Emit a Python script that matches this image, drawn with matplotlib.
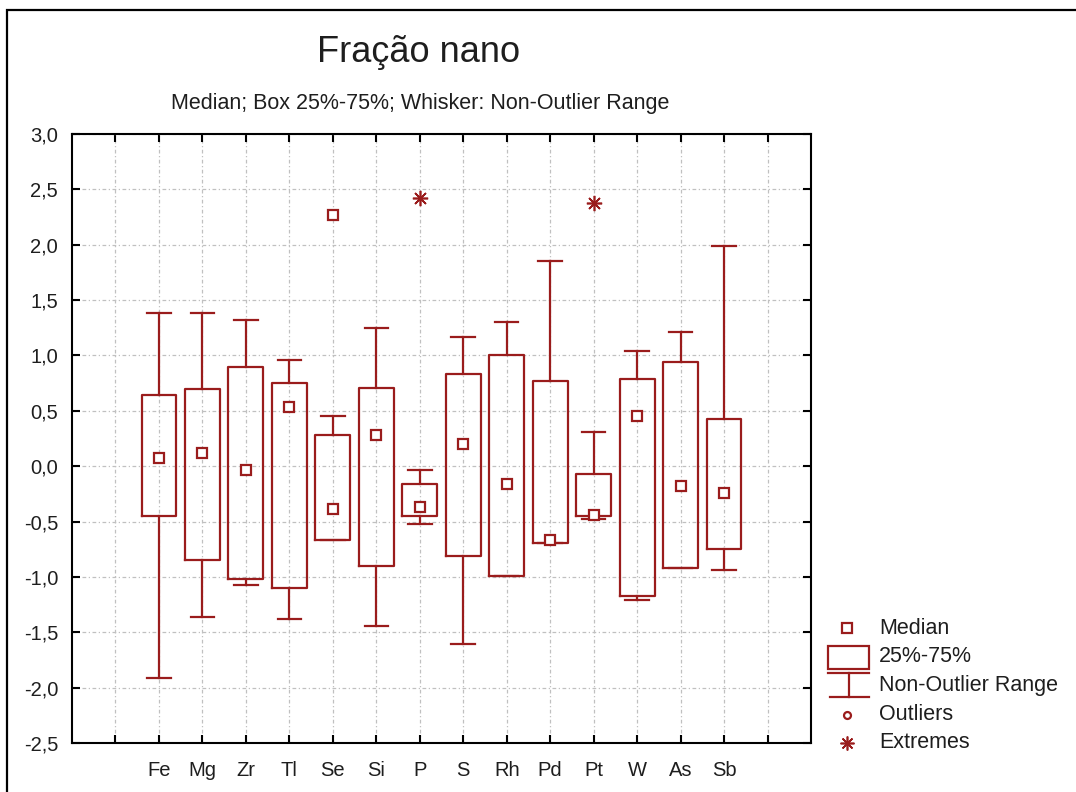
import matplotlib
matplotlib.use("Agg")
import matplotlib.pyplot as plt
from matplotlib.patches import Rectangle

plt.rcParams['font.family'] = ['Liberation Sans', 'DejaVu Sans']

# Element box-plot statistics (log-scale values)
elements = ["Fe", "Mg", "Zr", "Tl", "Se", "Si", "P", "S", "Rh", "Pd", "Pt", "W", "As", "Sb"]
medians  = [0.07, 0.12, -0.03, 0.53, -0.39, 0.28, -0.37, 0.20, -0.16, -0.67, -0.44, 0.45, -0.18, -0.24]
q1       = [-0.45, -0.85, -1.02, -1.10, -0.67, -0.90, -0.45, -0.81, -0.99, -0.69, -0.45, -1.17, -0.92, -0.75]
q3       = [0.64, 0.70, 0.90, 0.75, 0.28, 0.71, -0.16, 0.83, 1.00, 0.77, -0.07, 0.79, 0.94, 0.43]
whis_lo  = [-1.91, -1.36, -1.07, -1.38, -0.67, -1.44, -0.52, -1.61, -0.99, -0.69, -0.48, -1.21, -0.92, -0.94]
whis_hi  = [1.38, 1.38, 1.32, 0.96, 0.45, 1.25, -0.03, 1.17, 1.30, 1.85, 0.31, 1.04, 1.21, 1.99]
outliers = {"Se": [2.27]}
extremes = {"P": [2.42], "Pt": [2.38]}

y_ticks = [3.0, 2.5, 2.0, 1.5, 1.0, 0.5, 0.0, -0.5, -1.0, -1.5, -2.0, -2.5]

RED = "#9a1c1c"
TXT = "#1e1e1e"
GRID = "#c0c0c0"

W, H = 1076, 792
fig = plt.figure(figsize=(W / 100, H / 100), dpi=100)
fig.patch.set_facecolor("white")

# main plot area in pixel units
L, R, T, B = 72, 811, 134, 743
ax = fig.add_axes([L / W, 1 - B / H, (R - L) / W, (B - T) / H])

positions = list(range(2, 2 + len(elements)))
stats = []
for i, name in enumerate(elements):
    stats.append(dict(med=medians[i], q1=q1[i], q3=q3[i],
                      whislo=whis_lo[i], whishi=whis_hi[i], fliers=[]))

lw = 1.6
ax.bxp(stats, positions=positions, widths=0.8, capwidths=0.54,
       showfliers=False, patch_artist=False,
       boxprops=dict(color=RED, linewidth=lw),
       whiskerprops=dict(color=RED, linewidth=lw),
       capprops=dict(color=RED, linewidth=lw),
       medianprops=dict(linestyle="none"), zorder=3)

ax.plot(positions, medians, linestyle="none", marker="s", markersize=7,
        markerfacecolor="white", markeredgecolor=RED, markeredgewidth=1.6, zorder=4)

for name, vals in outliers.items():
    x = positions[elements.index(name)]
    ax.plot([x] * len(vals), vals, linestyle="none", marker="s", markersize=7,
            markerfacecolor="white", markeredgecolor=RED, markeredgewidth=1.6, zorder=4)
for name, vals in extremes.items():
    x = positions[elements.index(name)]
    ax.plot([x] * len(vals), vals, linestyle="none", marker=(8, 2, 0), markersize=11,
            markeredgecolor=RED, markeredgewidth=1.2, zorder=4)

ax.set_xlim(0, len(elements) + 3)
ax.set_ylim(-2.5, 3.0)
ax.set_xticks(range(1, len(elements) + 3))
ax.set_xticklabels([""] + elements + [""])
ax.set_yticks(y_ticks)
ax.set_yticklabels([f"{v:.1f}".replace(".", ",") for v in y_ticks])

ax.tick_params(direction="in", length=6, width=1.5, color="black",
               top=True, right=True, labelsize=14.5, labelcolor=TXT)
ax.tick_params(axis="y", pad=10)
ax.tick_params(axis="x", pad=13)
for s in ax.spines.values():
    s.set_linewidth(1.5)
    s.set_color("black")

ax.grid(True, color=GRID, linewidth=0.9, linestyle=(0, (3, 2, 1, 2)), zorder=0)
ax.set_axisbelow(True)

# overlay in pixel coordinates for titles, legend and frame
ov = fig.add_axes([0, 0, 1, 1], zorder=10)
ov.set_xlim(0, W)
ov.set_ylim(H, 0)
ov.axis("off")
ov.patch.set_alpha(0)

ov.plot([7, 7, W], [H, 10, 10], color="black", linewidth=1.6, solid_joinstyle="miter")

ov.text(419, 52, "Fração nano", fontsize=26, color=TXT, ha="center", va="center")
ov.text(420, 103, "Median; Box 25%-75%; Whisker: Non-Outlier Range",
        fontsize=15.5, color=TXT, ha="center", va="center")

# legend
lx, tx = 847, 879
ov.plot([lx], [628], marker="s", markersize=6.5, markerfacecolor="white",
        markeredgecolor=RED, markeredgewidth=1.6)
ov.add_patch(Rectangle((828, 646), 41, 23, fill=False, edgecolor=RED, linewidth=lw))
ov.plot([828, 869], [673, 673], color=RED, linewidth=lw)
ov.plot([849, 849], [673, 697], color=RED, linewidth=lw)
ov.plot([830, 869], [697, 697], color=RED, linewidth=lw)
ov.plot([lx], [715], marker="o", markersize=5, markerfacecolor="white",
        markeredgecolor=RED, markeredgewidth=1.6)
ov.plot([lx], [743], marker=(8, 2, 0), markersize=10, markeredgecolor=RED,
        markeredgewidth=1.2)
for label, y in [("Median", 628), ("25%-75%", 657), ("Non-Outlier Range", 686),
                 ("Outliers", 715), ("Extremes", 743)]:
    ov.text(tx, y, label, fontsize=15.5, color=TXT, ha="left", va="center")

fig.savefig("out.png", dpi=100)
